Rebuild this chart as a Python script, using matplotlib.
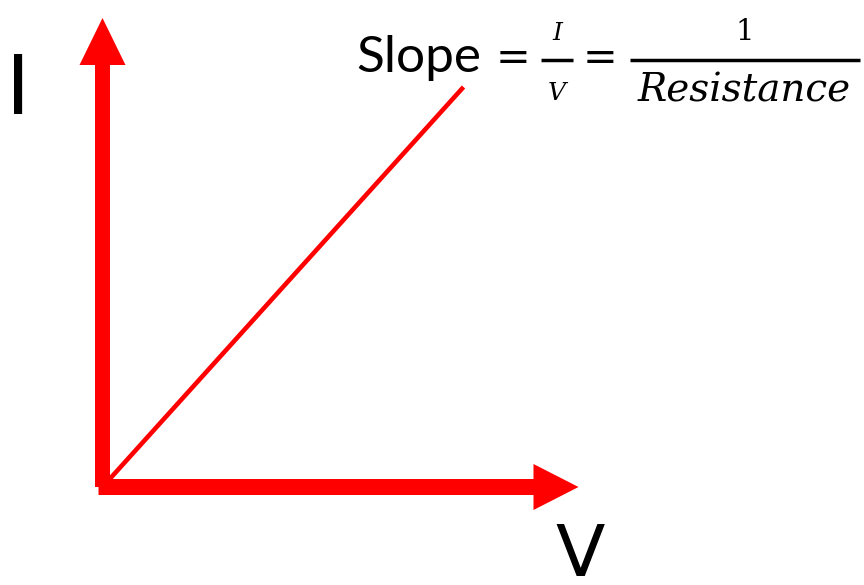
import matplotlib
matplotlib.use("Agg")
import matplotlib.pyplot as plt

# Data (I-V line through origin)
voltage = [0, 361]
current = [0, 400]
x_label = "V"
y_label = "I"
slope_word = "Slope"
frac1_num = "I"
frac1_den = "V"
frac2_num = "1"
frac2_den = "Resistance"

W, H = 864, 585
OX, OY = 102.5, 487  # pixel origin


def px(x, y):
    return (x - OX, OY - y)


fig = plt.figure(figsize=(W / 100, H / 100), dpi=100)
ax = fig.add_axes([0, 0, 1, 1])
ax.set_xlim(-OX, W - OX)
ax.set_ylim(OY - H, OY)
ax.axis("off")

red = "#ff0000"
# axes arrows
ax.arrow(0, 0, 0, 469, width=15, head_width=46, head_length=47,
         length_includes_head=True, color=red, lw=0)
ax.arrow(-4, 0, 480, 0, width=16, head_width=46, head_length=45,
         length_includes_head=True, color=red, lw=0)
# I-V line
ax.plot(voltage, current, color=red, lw=3.3, solid_capstyle="butt")

# axis labels
ax.text(*px(18, 114), y_label, fontsize=59, ha="center", va="baseline",
        family="DejaVu Sans")
ax.text(*px(580, 576), x_label, fontsize=52, ha="center", va="baseline",
        family="DejaVu Sans")

# equation
ax.text(*px(356, 72), slope_word, fontsize=37, ha="left", va="baseline",
        family="Lato")
ax.text(*px(513, 70), "=", fontsize=30, ha="center", va="baseline",
        family="DejaVu Sans")
ax.plot(*zip(px(541, 60), px(573, 60)), color="black", lw=2.5,
        solid_capstyle="butt")
ax.text(*px(557, 40), frac1_num, fontsize=18, ha="center", va="baseline",
        family="DejaVu Serif", style="italic")
ax.text(*px(557, 100), frac1_den, fontsize=18, ha="center", va="baseline",
        family="DejaVu Serif", style="italic")
ax.text(*px(600, 70), "=", fontsize=30, ha="center", va="baseline",
        family="DejaVu Sans")
ax.plot(*zip(px(630, 60), px(860, 60)), color="black", lw=2.5,
        solid_capstyle="butt")
ax.text(*px(745, 40), frac2_num, fontsize=21, ha="center", va="baseline",
        family="DejaVu Serif")
ax.text(*px(744, 101), frac2_den, fontsize=28, ha="center", va="baseline",
        family="DejaVu Serif", style="italic")

fig.savefig("out.png", dpi=100)
